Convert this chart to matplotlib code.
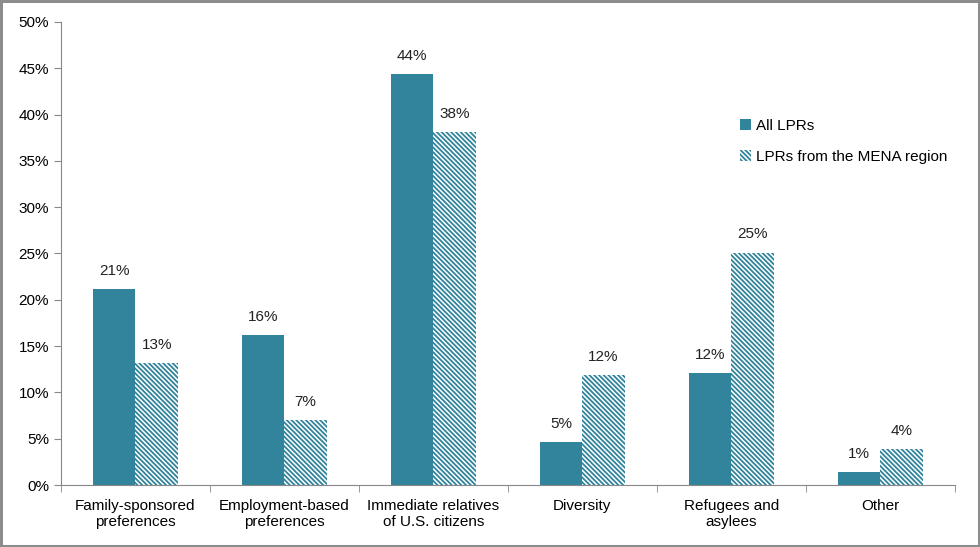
import numpy as np
import matplotlib.pyplot as plt

plt.rcParams['font.family'] = ['Liberation Sans', 'DejaVu Sans']

categories = ['Family-sponsored\npreferences', 'Employment-based\npreferences',
              'Immediate relatives\nof U.S. citizens', 'Diversity',
              'Refugees and\nasylees', 'Other']
all_lprs = [21.2, 16.2, 44.4, 4.6, 12.1, 1.4]
mena_lprs = [13.2, 7.0, 38.1, 11.9, 25.1, 3.9]
all_labels = ['21%', '16%', '44%', '5%', '12%', '1%']
mena_labels = ['13%', '7%', '38%', '12%', '25%', '4%']

teal = '#31849B'
plt.rcParams['hatch.color'] = teal
plt.rcParams['hatch.linewidth'] = 1.3

fig = plt.figure(figsize=(9.8, 5.47), dpi=100, linewidth=2.5, edgecolor='#8c8c8c')
ax = fig.add_axes([0.0622, 0.1133, 0.9118, 0.8467])

x = np.arange(len(categories))
w = 0.285
b1 = ax.bar(x - w / 2, all_lprs, w, color=teal, label='All LPRs')
b2 = ax.bar(x + w / 2, mena_lprs, w, color='white', hatch='\\' * 7, edgecolor=teal,
            linewidth=0, label='LPRs from the MENA region')

fs = 11
for rect, lab in zip(b1, all_labels):
    ax.text(rect.get_x() + rect.get_width() / 2, rect.get_height() + 1.2, lab,
            ha='center', va='bottom', fontsize=fs, color='#222222')
for rect, lab in zip(b2, mena_labels):
    ax.text(rect.get_x() + rect.get_width() / 2, rect.get_height() + 1.2, lab,
            ha='center', va='bottom', fontsize=fs, color='#222222')

ax.set_xlim(-0.5, len(categories) - 0.5)
ax.set_ylim(0, 50)
ax.set_yticks(range(0, 51, 5))
ax.set_yticklabels(['%d%%' % v for v in range(0, 51, 5)], fontsize=fs)
ax.set_xticks(x)
ax.set_xticklabels(categories, fontsize=fs)
ax.set_xticks(np.arange(-0.5, len(categories)), minor=True)
ax.tick_params(axis='x', which='major', length=0, pad=10)
ax.tick_params(axis='x', which='minor', length=5, color='#888888')
ax.tick_params(axis='y', length=5, color='#888888')

for s in ['top', 'right']:
    ax.spines[s].set_visible(False)
for s in ['left', 'bottom']:
    ax.spines[s].set_color('#888888')

ax.legend(loc='upper left', bbox_to_anchor=(0.745, 0.82), frameon=False,
          fontsize=fs, handlelength=0.7, handleheight=0.7, handletextpad=0.3,
          labelspacing=1.1)

fig.savefig('out.png', dpi=100, edgecolor=fig.get_edgecolor())
